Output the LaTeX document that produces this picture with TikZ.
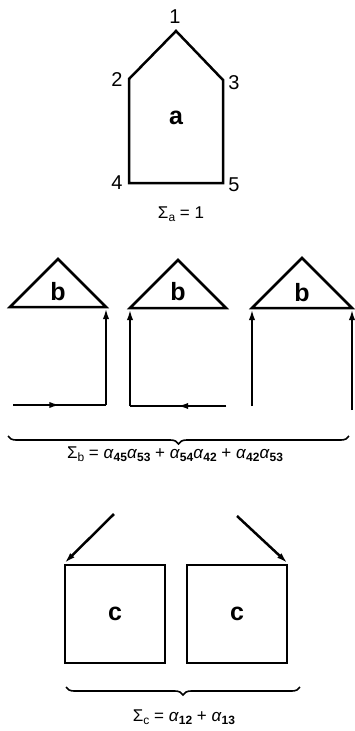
\documentclass[tikz,border=0pt]{standalone}
\usepackage{fontspec}
\setmainfont{Liberation Sans}
\usetikzlibrary{arrows.meta,calc,decorations.pathreplacing}

\newcommand{\sbs}[1]{\raisebox{-0.3ex}{\fontsize{12}{12}\selectfont #1}}
\newcommand{\alf}[1]{\textit{α}\sbs{\bfseries #1}}

\begin{document}
\begin{tikzpicture}[x=1pt,y=-1pt,line width=2.5pt,
    lbl/.style={font=\fontsize{20}{20}\selectfont},
    tag/.style={font=\bfseries\fontsize{25}{25}\selectfont},
    sum/.style={font=\fontsize{17}{17}\selectfont},
    sq/.style={draw,minimum width=100pt,minimum height=98pt,inner sep=0pt},
    arr/.style={-{Latex[length=12pt,width=6pt]}},
    brc/.style={decorate,decoration={brace,mirror,amplitude=8pt},line width=1.6pt}]
  \useasboundingbox (0,0) rectangle (355,731);

  % top: the graph a
  \coordinate (p1) at (176,31);
  \coordinate (p2) at (129,79);
  \coordinate (p3) at (223,80);
  \coordinate (p4) at (129,183);
  \coordinate (p5) at (223,183);
  \draw (p1) -- (p3) -- (p5) -- (p4) -- (p2) -- cycle;
  \node[lbl] (n1) at (175,17) {1};
  \node[lbl] (n2) at (117,80) {2};
  \node[lbl] (n3) at (234,83) {3};
  \node[lbl] (n4) at (117,183) {4};
  \node[lbl] (n5) at (234,185) {5};
  \node[tag] (a) at (176,118) {a};
  \node[sum] (suma) at (181,214) {Σ\sbs{a} = 1};

  % middle: three pieces b
  \coordinate (l1) at (10,307);  \coordinate (t1) at (58,259);  \coordinate (r1) at (106,307);
  \coordinate (l2) at (130,308); \coordinate (t2) at (178,260); \coordinate (r2) at (226,308);
  \coordinate (l3) at (252,308); \coordinate (t3) at (302,258); \coordinate (r3) at (352,308);
  \draw (l1) -- (t1) -- (r1) -- cycle;
  \draw (l2) -- (t2) -- (r2) -- cycle;
  \draw (l3) -- (t3) -- (r3) -- cycle;
  \node[tag] (b1) at (58,292) {b};
  \node[tag] (b2) at (178,292) {b};
  \node[tag] (b3) at (302,293) {b};

  \coordinate (e1) at (13,405);  \coordinate (c1) at (106,405);
  \coordinate (c2) at (130,406); \coordinate (e2) at (226,406);
  \coordinate (f3) at (252,406); \coordinate (g3) at (352,410);
  \draw (e1) -- (c1);
  \draw[arr] (e1) -- ($(e1)!0.52!(c1)$);
  \draw[arr] (c1) -- (r1);
  \draw (e2) -- (c2);
  \draw[arr] (e2) -- ($(e2)!0.52!(c2)$);
  \draw[arr] (c2) -- (l2);
  \draw[arr] (f3) -- (l3);
  \draw[arr] (g3) -- (r3);

  \coordinate (bl) at (8,436);
  \coordinate (br) at (349,436);
  \draw[brc] (bl) -- (br);
  \node[sum] (sumb) at (175,454)
    {Σ\sbs{b} = \alf{45}\alf{53} + \alf{54}\alf{42} + \alf{42}\alf{53}};

  % bottom: two pieces c
  \node[sq,tag] (q1) at (115,614) {c};
  \node[sq,tag] (q2) at (237,614) {c};
  \coordinate (s1) at (114,514);
  \coordinate (s2) at (237,516);
  \draw[arr] (s1) -- (q1.north west);
  \draw[arr] (s2) -- (q2.north east);

  \coordinate (cl) at (66,687);
  \coordinate (cr) at (300,687);
  \draw[brc] (cl) -- (cr);
  \node[sum] (sumc) at (184,717) {Σ\sbs{c} = \alf{12} + \alf{13}};
\end{tikzpicture}
\end{document}
